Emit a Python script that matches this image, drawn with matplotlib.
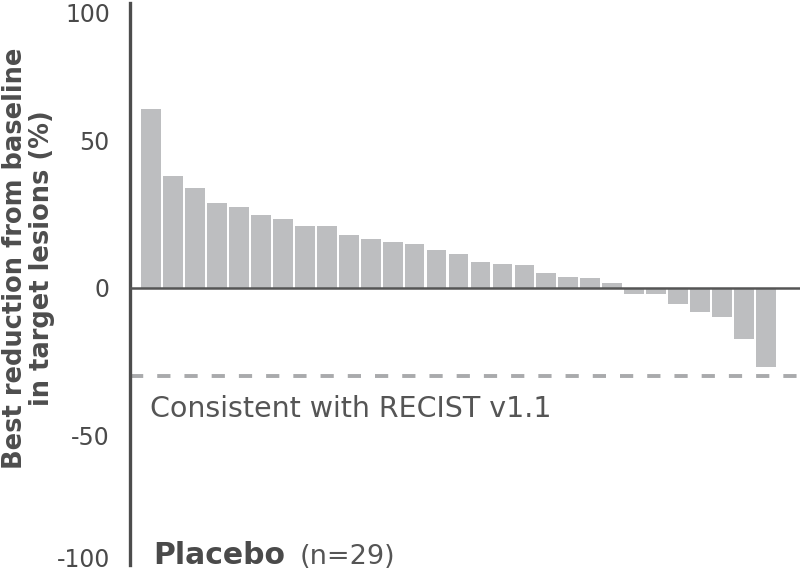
import matplotlib
matplotlib.use("Agg")
import matplotlib.pyplot as plt

# best change from baseline per patient (%), sorted
values = [60.6, 37.9, 34.0, 28.7, 27.5, 24.9, 23.4, 21.0, 21.0, 18.1,
          16.5, 15.5, 14.8, 13.0, 11.6, 8.9, 8.2, 7.7, 5.0, 3.8,
          3.3, 1.8, -1.9, -1.9, -5.3, -8.1, -9.7, -17.4, -26.7]
recist_cut = -30
tick_vals = [93.5, 50, 0, -50, -91.5]
tick_labels = ["100", "50", "0", "-50", "-100"]

plt.rcParams['font.family'] = ['DejaVu Sans']

fig = plt.figure(figsize=(8.02, 5.72), dpi=100)
ax = fig.add_axes([130/802, 1 - 565/572, 670/802, 562/572])

x = range(len(values))
ax.bar(x, values, width=0.9, color='#bdbec0', zorder=2)

ax.axhline(0, color='#555555', lw=1.8, zorder=3)
ax.axhline(recist_cut, color='#a9aaac', lw=2.8, dashes=(3.4, 3.6), zorder=1)

ax.set_xlim(-0.96, 29.55)
ax.set_ylim(-93.9, 96.6)

for s in ['top', 'right', 'bottom']:
    ax.spines[s].set_visible(False)
ax.spines['left'].set_color('#4d4d4d')
ax.spines['left'].set_linewidth(2.4)

ax.set_xticks([])
ax.set_yticks(tick_vals)
ax.set_yticklabels(tick_labels)
ax.tick_params(axis='y', length=0, pad=14.5, labelsize=17, labelcolor='#4a4a4a')

# y label placed by hand so it fits the left margin
fig.text(28.5/802, 1 - 258/572, "Best reduction from baseline\nin target lesions (%)",
         rotation=90, ha='center', va='center', multialignment='center',
         fontsize=18.5, fontweight='bold', color='#4d4d4d', linespacing=1.03)

ax.text(0.03, -41, "Consistent with RECIST v1.1", fontsize=20.5,
        color='#555555', va='center', ha='left',
        transform=ax.get_yaxis_transform())

ax.text(0.034, -93.5, "Placebo", fontsize=21.5, fontweight='bold',
        color='#4a4a4a', va='baseline', ha='left',
        transform=ax.get_yaxis_transform())
ax.text(0.253, -93.5, "(n=29)", fontsize=19.5, color='#555555',
        va='baseline', ha='left', transform=ax.get_yaxis_transform())

fig.savefig("out.png", dpi=100)
